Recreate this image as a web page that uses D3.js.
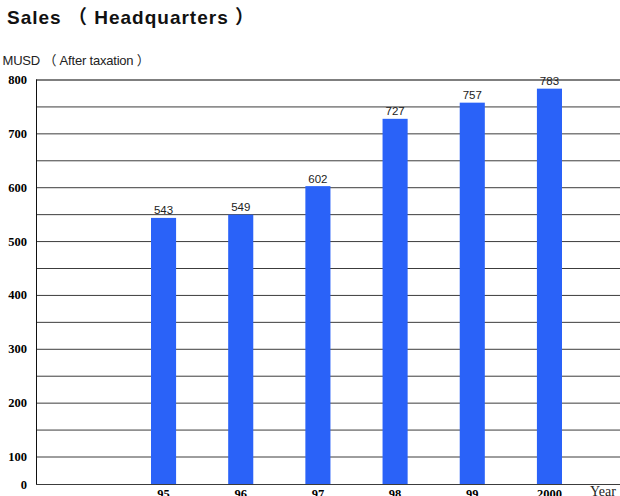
<!DOCTYPE html>
<head>
  <meta charset="utf-8">
  <style>
    body { margin: 0; background: #fff; }
    svg { display: block; }
  </style>
</head>
<body>
  <script src="https://cdn.jsdelivr.net/npm/d3@7/dist/d3.min.js"></script>
  <script>
    // chart data
    var years = ["95", "96", "97", "98", "99", "2000"]
    var sales = [543, 549, 602, 727, 757, 783]
    var yLabels = [0, 100, 200, 300, 400, 500, 600, 700, 800]
    var gridValues = [0, 100, 150, 200, 250, 300, 350, 400, 450, 500, 550, 600, 650, 700, 750, 800]

    var w = 620
    var h = 496
    var left = 36
    var right = 620

    var sansFont = "'Liberation Sans', Arial, 'Noto Sans CJK JP', sans-serif"
    var serifFont = "'Liberation Serif', 'Times New Roman', serif"

    var svg = d3.select("body")
                .append("svg")
                .attr("width", w)
                .attr("height", h)

    // broken y axis: 0 to 100 is squeezed, 100 to 800 is linear
    var y = d3.scaleLinear()
              .domain([0, 100, 800])
              .range([484, 456.5, 79.5])

    var x = d3.scaleBand()
              .domain(years)
              .range([151, 562])
              .paddingInner(0.675)
              .paddingOuter(0)

    // gridlines
    var grid = svg.append("g")
        .attr("transform", "translate(" + left + ",0)")
        .call(d3.axisRight(y).tickValues(gridValues).tickSize(right - left).tickFormat(""))
    grid.select(".domain").remove()
    grid.selectAll("line")
        .attr("stroke", function(d) { return d === 800 ? "#555" : "#3c3c3c" })
        .attr("stroke-width", function(d) { return d === 800 ? 1.6 : 1 })

    // left axis with labels
    var yAxis = svg.append("g")
        .attr("transform", "translate(" + left + ",0)")
        .call(d3.axisLeft(y).tickValues(yLabels).tickSize(0).tickPadding(9))
    yAxis.select(".domain")
        .attr("stroke", "#111")
        .attr("d", "M0.5," + y(800) + "V" + y(0))
    yAxis.selectAll("text")
        .attr("font-family", serifFont)
        .attr("font-weight", "bold")
        .attr("font-size", "12.5px")
        .attr("fill", "#000")

    // bars
    svg.selectAll("rect.bar")
        .data(sales)
        .enter()
        .append("rect")
        .attr("class", "bar")
        .attr("x", function(d, i) { return x(years[i]) })
        .attr("y", function(d) { return y(d) })
        .attr("width", x.bandwidth())
        .attr("height", function(d) { return y(0) - y(d) })
        .attr("fill", "#2a62f8")

    // value labels
    svg.selectAll("text.val")
        .data(sales)
        .enter()
        .append("text")
        .attr("class", "val")
        .attr("x", function(d, i) { return x(years[i]) + x.bandwidth() / 2 })
        .attr("y", function(d) { return y(d) - 3.5 })
        .attr("text-anchor", "middle")
        .attr("font-family", sansFont)
        .attr("font-size", "11.5px")
        .attr("fill", "#222")
        .text(function(d) { return d })

    // x axis labels (cut by the bottom edge as in the original)
    var xAxis = svg.append("g")
        .attr("transform", "translate(0," + y(0) + ")")
        .call(d3.axisBottom(x).tickSize(0).tickPadding(5))
    xAxis.select(".domain").remove()
    xAxis.selectAll("text")
        .attr("font-family", serifFont)
        .attr("font-weight", "bold")
        .attr("font-size", "12.5px")
        .attr("fill", "#000")

    svg.append("text")
        .attr("x", 590)
        .attr("y", 495.5)
        .attr("font-family", serifFont)
        .attr("font-size", "14px")
        .attr("fill", "#222")
        .text("Year")

    // titles
    svg.append("text")
        .attr("x", 7)
        .attr("y", 23.5)
        .attr("font-family", sansFont)
        .attr("font-weight", "bold")
        .attr("font-size", "19px")
        .attr("letter-spacing", "1px")
        .attr("fill", "#111")
        .text("Sales （ Headquarters ）")

    svg.append("text")
        .attr("x", 2.5)
        .attr("y", 65)
        .attr("font-family", sansFont)
        .attr("font-size", "13px")
        .attr("letter-spacing", "-0.2px")
        .attr("fill", "#222")
        .text("MUSD （ After taxation ）")
  </script>
</body>
